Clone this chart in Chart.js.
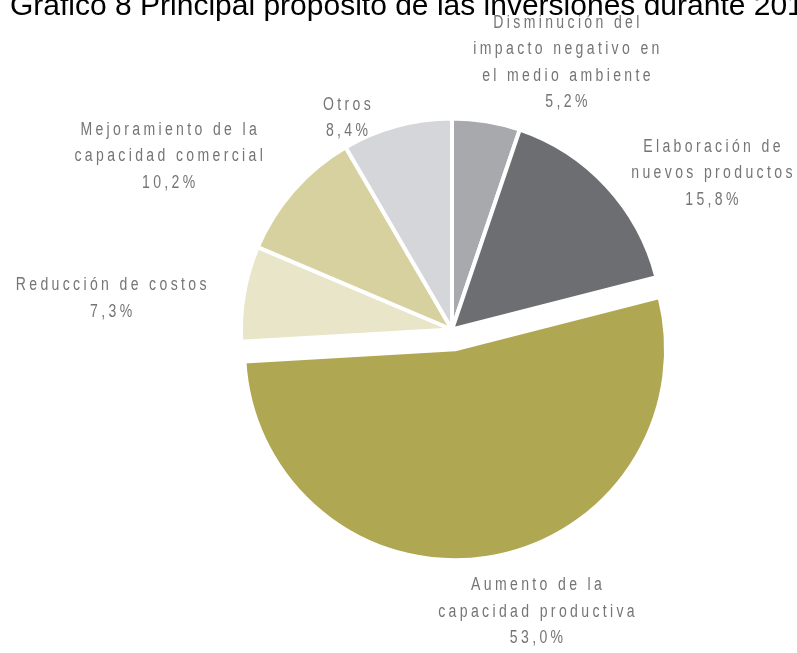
<!DOCTYPE html>
<html>
<head>
<meta charset="utf-8">
<script src="https://cdn.jsdelivr.net/npm/chart.js@4/dist/chart.umd.min.js"></script>
<style>
  body { margin: 0; background: #fff; }
  #wrap { width: 797px; height: 653px; position: relative; }
</style>
</head>
<body>
<div id="wrap"><canvas id="myChart"></canvas></div>
<script>
var titulo = 'Gráfico 8 Principal propósito de las inversiones durante 2010';
var categorias = [
    ['Disminución del', 'impacto negativo en', 'el medio ambiente'],
    ['Elaboración de', 'nuevos productos'],
    ['Aumento de la', 'capacidad productiva'],
    ['Reducción de costos'],
    ['Mejoramiento de la', 'capacidad comercial'],
    ['Otros']
];
var valores = [5.2, 15.8, 53.0, 7.3, 10.2, 8.4];
var colores = ['#a7a9ac', '#6d6e71', '#b0a752', '#e8e5c8', '#d7d09f', '#d5d6da'];
// how far each slice is pulled out of the pie (px)
var separacion = [0, 0, 20, 0, 0, 0];

// where each label sits, relative to the middle of its slice's rim
var desplazLabel = [[80, -59], [105, -13], [49, 54], [-133, 5], [-125, -34], [-50, -8]];

var ctx = document.getElementById('myChart').getContext('2d');

// chart.js grows an offset slice instead of moving it when it is over half
// the pie, so move the arc centre here after the layout is done
var separar = {
    id: 'separar',
    afterDatasetsUpdate: function(chart) {
        var arcs = chart.getDatasetMeta(0).data;
        arcs.forEach(function(arc, i) {
            var d = separacion[i];
            if (!d) return;
            var mid = (arc.startAngle + arc.endAngle) / 2;
            arc.x += Math.cos(mid) * d;
            arc.y += Math.sin(mid) * d;
        });
    }
};

var etiquetas = {
    id: 'etiquetas',
    afterDraw: function(chart) {
        var c = chart.ctx;
        c.save();
        // title, clipped at the top like the original
        c.font = '30px "Liberation Sans", Arial, sans-serif';
        c.fillStyle = '#000';
        c.textAlign = 'left';
        c.textBaseline = 'alphabetic';
        c.fillText(titulo, 10, 15);

        // narrow, letter-spaced labels
        var ls = 4.3;
        c.font = '18px "Liberation Sans", Arial, sans-serif';
        c.letterSpacing = ls + 'px';
        c.fillStyle = '#757575';
        c.textAlign = 'center';
        c.textBaseline = 'middle';
        var arcs = chart.getDatasetMeta(0).data;
        arcs.forEach(function(arc, i) {
            var mid = (arc.startAngle + arc.endAngle) / 2;
            var ex = arc.x + Math.cos(mid) * arc.outerRadius;
            var ey = arc.y + Math.sin(mid) * arc.outerRadius;
            var cx = ex + desplazLabel[i][0];
            var cy = ey + desplazLabel[i][1];
            var lineas = categorias[i].concat([valores[i].toFixed(1).replace('.', ',') + '%']);
            var lh = 26.5;
            var y0 = cy - (lineas.length - 1) * lh / 2;
            lineas.forEach(function(t, k) {
                c.save();
                c.translate(cx, y0 + k * lh);
                c.scale(0.78, 1);
                c.fillText(t, ls / 2, 0);
                c.restore();
            });
        });
        c.restore();
    }
};

var chart = new Chart(ctx, {
    type: 'pie',
    data: {
        labels: categorias.map(function(l) { return l.join(' '); }),
        datasets: [{
            data: valores,
            backgroundColor: colores,
            borderColor: '#ffffff',
            borderWidth: 4
        }]
    },
    options: {
        responsive: true,
        maintainAspectRatio: false,
        animation: false,
        radius: 211,
        layout: { padding: { left: 107, right: 0, top: 6, bottom: 0 } },
        plugins: {
            legend: { display: false },
            tooltip: { enabled: false }
        }
    },
    plugins: [separar, etiquetas]
});
</script>
</body>
</html>
